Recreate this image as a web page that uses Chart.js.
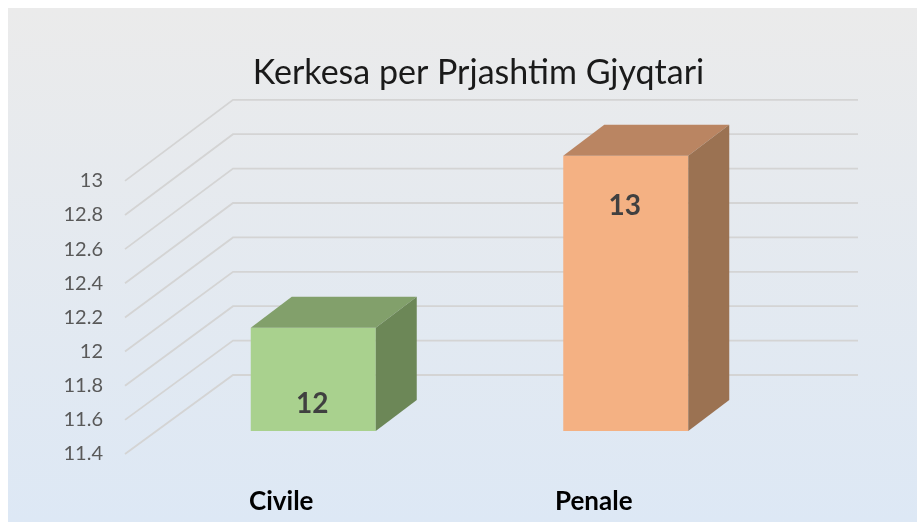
<!DOCTYPE html>
<html>
<head>
<meta charset="utf-8">
<script src="https://cdn.jsdelivr.net/npm/chart.js@4/dist/chart.umd.min.js"></script>
<style>
  html, body { margin: 0; padding: 0; background: #fff; }
  canvas { display: block; }
</style>
</head>
<body>
<canvas id="chart" width="917" height="522"></canvas>
<script>
const categories = ['Civile', 'Penale'];
const values = [12, 13];
const tickValues = [11.4, 11.6, 11.8, 12, 12.2, 12.4, 12.6, 12.8, 13];
const axisFloor = 11.4;

const frontColors = ['#A9D18E', '#F4B183'];
const topColors = ['#82A06B', '#BA8562'];
const sideColors = ['#6C8757', '#9B7252'];

// 3d look: back wall, depth faces, labels
const depth3d = {
    id: 'depth3d',
    beforeDraw(chart) {
        const c = chart.ctx;
        c.save();
        c.fillStyle = '#ffffff';
        c.fillRect(0, 0, chart.width, chart.height);
        const g = c.createLinearGradient(0, 8, 0, chart.height);
        g.addColorStop(0, '#EBEBEB');
        g.addColorStop(1, '#DDE8F5');
        c.fillStyle = g;
        c.fillRect(8, 8, chart.width - 8, chart.height - 8);
        c.restore();
    },
    beforeDatasetsDraw(chart) {
        const c = chart.ctx;
        const area = chart.chartArea;
        const y = chart.scales.y;
        const yf = chart.scales.yf;
        c.save();
        c.strokeStyle = '#D4D4D4';
        c.lineWidth = 1.8;
        tickValues.forEach(v => {
            const yb = y.getPixelForValue(v) - 56;
            c.beginPath();
            c.moveTo(area.left - 32, yf.getPixelForValue(v));
            c.lineTo(area.left + 76, yb);
            c.lineTo(area.right + 76, yb);
            c.stroke();
        });
        c.restore();
    },
    afterDatasetsDraw(chart) {
        const c = chart.ctx;
        const meta = chart.getDatasetMeta(0);
        const dx = 41, dy = -31;
        const labelDy = [76, 50];
        c.save();
        meta.data.forEach((bar, i) => {
            const l = bar.x - bar.width / 2;
            const r = bar.x + bar.width / 2;
            const t = Math.min(bar.y, bar.base);
            const b = Math.max(bar.y, bar.base);
            c.fillStyle = topColors[i];
            c.beginPath();
            c.moveTo(l, t);
            c.lineTo(l + dx, t + dy);
            c.lineTo(r + dx, t + dy);
            c.lineTo(r, t);
            c.closePath();
            c.fill();
            c.fillStyle = sideColors[i];
            c.beginPath();
            c.moveTo(r, t);
            c.lineTo(r + dx, t + dy);
            c.lineTo(r + dx, b + dy);
            c.lineTo(r, b);
            c.closePath();
            c.fill();

            c.fillStyle = '#404040';
            c.font = 'bold 28px Lato';
            c.textAlign = 'center';
            c.textBaseline = 'middle';
            c.fillText(String(values[i]), bar.x - 1, t + labelDy[i]);
        });
        c.restore();
    }
};

new Chart(document.getElementById('chart'), {
    type: 'bar',
    data: {
        labels: categories,
        datasets: [{
            data: values.map(v => [axisFloor, v]),
            backgroundColor: frontColors,
            borderWidth: 0,
            barPercentage: 0.4,
            categoryPercentage: 1,
            yAxisID: 'y'
        }]
    },
    options: {
        responsive: false,
        animation: false,
        layout: { padding: { left: 40, right: 0, top: 8, bottom: 0 } },
        plugins: {
            legend: { display: false },
            tooltip: { enabled: false },
            title: {
                display: true,
                text: 'Kerkesa per Prjashtim Gjyqtari',
                color: '#1a1a1a',
                font: { family: 'Lato', size: 34, weight: 'normal', lineHeight: 1.2 },
                padding: { top: 45, bottom: 5 }
            }
        },
        scales: {
            x: {
                grid: { display: false },
                border: { display: false },
                ticks: {
                    color: '#000',
                    font: { family: 'Lato', size: 26, weight: 'bold' },
                    labelOffset: -32,
                    padding: 24
                },
                afterFit(s) { s.height = 68; }
            },
            yf: {
                position: 'left',
                min: 11.4,
                max: 13.4806,
                grid: { display: false, drawTicks: false },
                border: { display: false },
                afterBuildTicks(s) { s.ticks = tickValues.map(v => ({ value: v })); },
                ticks: {
                    color: '#595959',
                    font: { family: 'Lato', size: 20 },
                    padding: 54,
                    callback: v => String(Number(v.toFixed(1)))
                },
                afterFit(s) { s.width = 117; }
            },
            y: {
                position: 'right',
                min: 11.2662,
                max: 13.3316,
                grid: { display: false, drawTicks: false },
                border: { display: false },
                ticks: { display: false },
                afterFit(s) { s.width = 135; }
            }
        }
    },
    plugins: [depth3d]
});
</script>
</body>
</html>
